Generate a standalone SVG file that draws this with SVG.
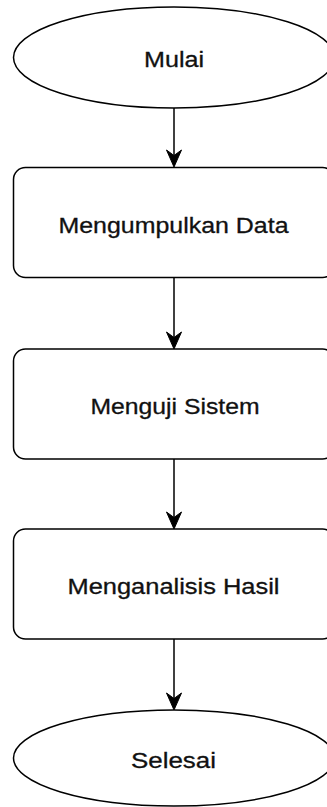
<svg xmlns="http://www.w3.org/2000/svg" width="327" height="807" viewBox="0 0 327 807">
<style>
.shape{fill:#ffffff;stroke:#000000;stroke-width:1.5}
.lbl{font-family:"Liberation Sans",Arial,sans-serif;font-size:22px;fill:#111111;stroke:#111111;stroke-width:0.3;text-anchor:middle}
.edge{stroke:#000000;stroke-width:1.5;fill:none}
.head{fill:#000000;stroke:#000000;stroke-width:1}
</style>
<rect width="327" height="807" fill="#ffffff"/>
<g id="connectors">
  <line class="edge" x1="174" y1="108" x2="174" y2="160"/>
  <path class="head" d="M174,167 L166.5,150 L174,155.5 L181.5,150 Z"/>
  <line class="edge" x1="174" y1="277.5" x2="174" y2="342"/>
  <path class="head" d="M174,349 L166.5,332 L174,337.5 L181.5,332 Z"/>
  <line class="edge" x1="174" y1="459" x2="174" y2="522"/>
  <path class="head" d="M174,529 L166.5,512 L174,517.5 L181.5,512 Z"/>
  <line class="edge" x1="174" y1="639" x2="174" y2="703"/>
  <path class="head" d="M174,710 L166.5,693 L174,698.5 L181.5,693 Z"/>
</g>
<g id="mulai">
  <ellipse class="shape" cx="174" cy="57.5" rx="160.5" ry="50.5"/>
  <text class="lbl" x="174" y="67.3" textLength="60" lengthAdjust="spacingAndGlyphs">Mulai</text>
</g>
<g id="mengumpulkan-data">
  <rect class="shape" x="13.5" y="167.5" width="321" height="110" rx="12" ry="12"/>
  <text class="lbl" x="173.5" y="233.3" textLength="230" lengthAdjust="spacingAndGlyphs">Mengumpulkan Data</text>
</g>
<g id="menguji-sistem">
  <rect class="shape" x="13.5" y="349" width="321" height="110" rx="12" ry="12"/>
  <text class="lbl" x="175" y="414" textLength="169" lengthAdjust="spacingAndGlyphs">Menguji Sistem</text>
</g>
<g id="menganalisis-hasil">
  <rect class="shape" x="13.5" y="529" width="321" height="110" rx="12" ry="12"/>
  <text class="lbl" x="173.5" y="594" textLength="212" lengthAdjust="spacingAndGlyphs">Menganalisis Hasil</text>
</g>
<g id="selesai">
  <ellipse class="shape" cx="174" cy="758" rx="160.5" ry="48"/>
  <text class="lbl" x="173.5" y="768" textLength="85" lengthAdjust="spacingAndGlyphs">Selesai</text>
</g>
</svg>
